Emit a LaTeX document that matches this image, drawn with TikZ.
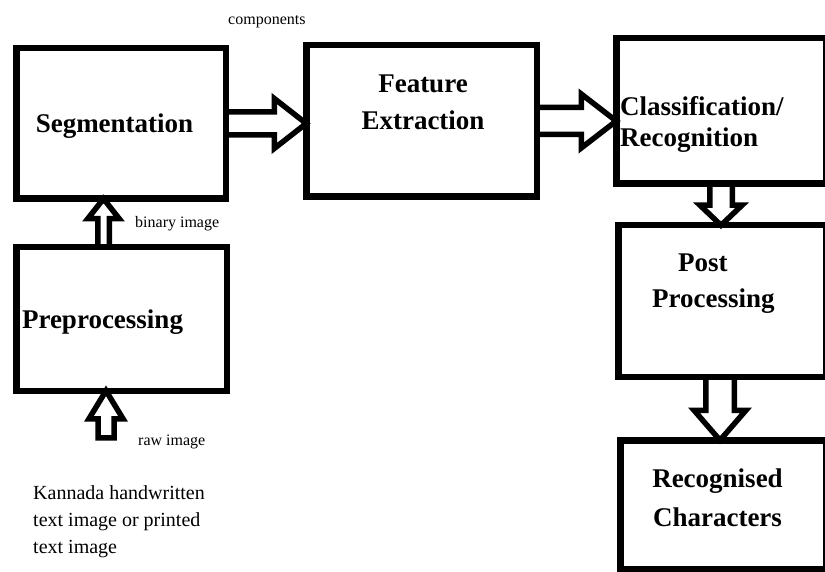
\documentclass[tikz,border=0pt]{standalone}
\usepackage{fontspec}
\setmainfont{Liberation Serif}
\usetikzlibrary{calc}

% hollow block arrow: start, tip, shaft half width, head half width, head length
\newcommand{\hollowarrow}[5]{%
  \coordinate (ha) at #1;
  \coordinate (hb) at #2;
  \coordinate (hc) at ($(hb)!#5!(ha)$);
  \draw[blockarrow] ($(ha)!#3!90:(hb)$) -- ($(hc)!#3!90:(hb)$) -- ($(hc)!#4!90:(hb)$)
    -- (hb) -- ($(hc)!#4!-90:(hb)$) -- ($(hc)!#3!-90:(hb)$) -- ($(ha)!#3!-90:(hb)$) -- cycle;}

\begin{document}
\begin{tikzpicture}[x=1pt, y=-1pt,
  stagebox/.style={draw, line width=6.5pt, inner sep=0pt, outer sep=0pt},
  boxlabel/.style={font=\fontsize{27}{#1}\selectfont\bfseries, inner sep=0pt},
  boxlabel/.default=36,
  smalllabel/.style={font=\fontsize{16}{19}\selectfont, inner sep=0pt},
  blockarrow/.style={draw, line width=5.5pt, line join=miter}]

\path[use as bounding box, fill=white] (0,0) rectangle (825,572);

% stages
\node[stagebox, minimum width=209.5pt, minimum height=150.5pt] (seg) at (121,123.5) {};
\node[stagebox, minimum width=230.5pt, minimum height=151.5pt] (feat) at (421.5,121) {};
\node[stagebox, minimum width=209.5pt, minimum height=145.5pt] (cls) at (721,111) {};
\node[stagebox, minimum width=207.5pt, minimum height=151.5pt] (post) at (722,301) {};
\node[stagebox, minimum width=205.5pt, minimum height=128.5pt] (rec) at (723,504.5) {};
\node[stagebox, minimum width=210.5pt, minimum height=143.5pt] (pre) at (121.5,319) {};

% stage names
\node[boxlabel, anchor=base] (seglabel) at (114.5,133) {Segmentation};
\node[boxlabel=37, align=center] (featlabel) at (423,102.4) {Feature\\Extraction};
\node[boxlabel=31, align=left, anchor=west] (clslabel) at (620,124.2) {Classification/\\Recognition};
\node[boxlabel=36, align=left, anchor=west] (postlabel) at (652,284) {\hspace*{26pt}Post\\Processing};
\node[boxlabel=39, align=center] (reclabel) at (717.5,498.2) {Recognised\\Characters};
\node[boxlabel, anchor=base] (prelabel) at (102.5,328) {Preprocessing};

% flow
\hollowarrow{(seg.east)}{(feat.west |- seg.east)}{11.5pt}{25pt}{32pt}
\hollowarrow{(feat.east)}{(cls.west |- feat.east)}{13.5pt}{27pt}{35pt}
\hollowarrow{(cls.south)}{($(post.north)+(-1,0)$)}{11.25pt}{21pt}{20pt}
\hollowarrow{($(post.south)+(-2,0)$)}{($(rec.north)+(-3,0)$)}{14.25pt}{26pt}{30pt}
\hollowarrow{($(pre.north)+(-18,0)$)}{($(seg.south)+(-17.5,0)$)}{5.75pt}{15.75pt}{20pt}
\coordinate (rawin) at ($(pre.south)+(-15.5,47)$);
\hollowarrow{(rawin)}{($(pre.south)+(-15.5,0)$)}{8pt}{17pt}{28pt}

% annotations
\node[smalllabel, anchor=base west] (complabel) at (228,25) {components};
\node[smalllabel, anchor=base west] (binlabel) at (135,228) {binary image};
\node[smalllabel, anchor=base west] (rawlabel) at (138,445) {raw image};
\node[font=\fontsize{20}{27}\selectfont, inner sep=0pt, align=left, anchor=west] (source) at (33,521.3)
  {Kannada handwritten\\text image or printed\\text image};

\end{tikzpicture}
\end{document}
